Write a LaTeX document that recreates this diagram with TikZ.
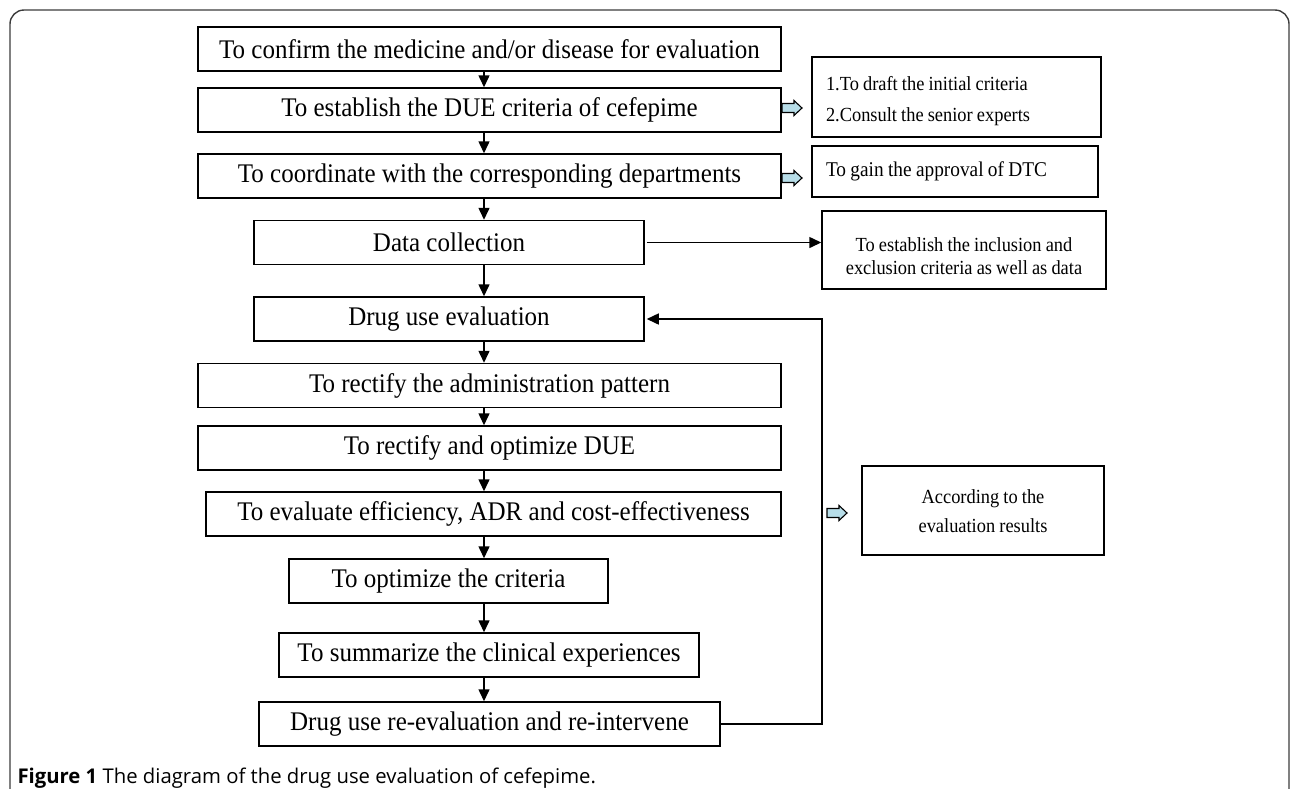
\documentclass[tikz,border=0pt]{standalone}
\usepackage{fontspec}
\setmainfont{Liberation Serif}
\newfontfamily\boxfont{Liberation Serif}[FakeStretch=0.93]
\newfontfamily\notefont{Liberation Serif}[FakeStretch=0.92, WordSpace=0.9]
\newfontfamily\captionfont{Open Sans}
\usetikzlibrary{arrows.meta}
\definecolor{blockcyan}{RGB}{183,221,232}
\definecolor{framegray}{RGB}{60,60,60}

% hollow block arrow pointing right, starting at a named coordinate
\newcommand{\blockarrow}[1]{%
    \draw[line width=1.1pt, fill=blockcyan, line join=miter]
        (#1) ++(0,-4.5) -- ++(12,0) -- ++(0,-3) -- ++(8,7.5) -- ++(-8,7.5)
        -- ++(0,-3) -- ++(-12,0) -- cycle;}
% lowered stack of lines, keeps the node centred on its box
\newcommand{\lowstack}[3][c]{\raisebox{-#2}[\height][\depth]{\shortstack[#1]{#3}}}

\begin{document}
\begin{tikzpicture}[x=1pt, y=-1pt,
    stepbox/.style={draw, line width=1.5pt, inner sep=0pt, minimum height=44pt, font=\boxfont\fontsize{26.9}{30}\selectfont},
    sidebox/.style={draw, line width=1.5pt, inner sep=0pt, font=\notefont\fontsize{20}{26}\selectfont},
    flow/.style={-{Triangle[length=12pt,width=11pt]}, line width=1.5pt}]
    \useasboundingbox (0,0) rectangle (1292,788);
    \draw[framegray, line width=1.4pt, rounded corners=14pt] (10,800) -- (10,10) -- (1289,10) -- (1289,800);

    % main column
    \node[stepbox, minimum width=583pt] (confirm) at (489.5,49) {To confirm the medicine and/or disease for evaluation};
    \node[stepbox, minimum width=583pt] (due) at (489.5,110) {To establish the DUE criteria of cefepime};
    \node[stepbox, minimum width=583pt] (coord) at (489.5,176) {To coordinate with the corresponding departments};
    \node[stepbox, minimum width=390pt] (data) at (449,242.5) {Data collection};
    \node[stepbox, minimum width=390pt] (eval) at (449,319) {Drug use evaluation};
    \node[stepbox, minimum width=583pt] (rectadm) at (489.5,385.5) {To rectify the administration pattern};
    \node[stepbox, minimum width=583pt] (rectdue) at (489.5,448) {To rectify and optimize DUE};
    \node[stepbox, minimum width=575pt] (effic) at (493.5,514) {To evaluate efficiency, ADR and cost-effectiveness};
    \node[stepbox, minimum width=319pt] (optim) at (448.5,581) {To optimize the criteria};
    \node[stepbox, minimum width=420pt] (summ) at (489,655) {To summarize the clinical experiences};
    \node[stepbox, minimum width=461pt] (reeval) at (489.5,724) {Drug use re-evaluation and re-intervene};

    % side notes
    \node[sidebox, inner xsep=14pt, minimum height=80pt] (draft) at (956.5,97) {\makebox[261pt][l]{\lowstack[l]{4pt}{1.To draft the initial criteria\\[14pt]2.Consult the senior experts}}};
    \node[sidebox, inner xsep=14pt, minimum height=51pt, font=\notefont\fontsize{21}{26}\selectfont] (dtc) at (955,171.5) {\makebox[258pt][l]{To gain the approval of DTC}};
    \node[sidebox, minimum width=284pt, minimum height=78pt] (incl) at (964,250) {\lowstack{6pt}{To establish the inclusion and\\[6pt]exclusion criteria as well as data}};
    \node[sidebox, minimum width=242pt, minimum height=89pt] (accord) at (983,510.5) {\lowstack{1pt}{According to the\\[8pt]evaluation results}};

    \coordinate (bk1) at (782,108);
    \coordinate (bk2) at (782,178);
    \coordinate (bk3) at (827,513);
    \blockarrow{bk1}
    \blockarrow{bk2}
    \blockarrow{bk3}

    % connectors
    \coordinate (spine) at (484,0);
    \coordinate (loopx) at (822,0);
    \foreach \a/\b in {confirm/due,due/coord,coord/data,data/eval,eval/rectadm,rectadm/rectdue,rectdue/effic,effic/optim,optim/summ,summ/reeval}
        \draw[flow] (\a.south -| spine) -- (\b.north -| spine);
    \draw[flow] ([xshift=2pt]data.east) -- (incl.west |- data.east);
    \draw[flow] (reeval.east) -| (loopx |- eval.east) -- ([xshift=2pt]eval.east);

    \node[anchor=base west, font=\captionfont\fontsize{20.3}{24}\selectfont] (caption) at (14,783) {\textbf{Figure 1} The diagram of the drug use evaluation of cefepime.};
\end{tikzpicture}
\end{document}
